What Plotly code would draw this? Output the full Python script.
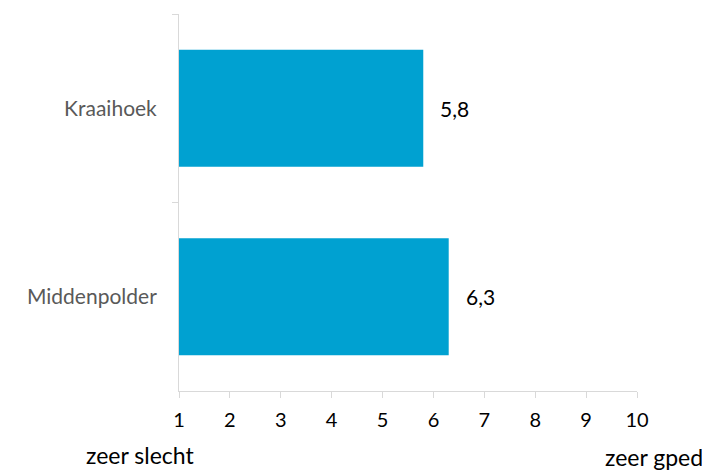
import plotly.graph_objects as go

categories = ["Kraaihoek", "Middenpolder"]
values = [5.8, 6.3]
labels = ["5,8", "6,3"]
x_ticks = [1, 2, 3, 4, 5, 6, 7, 8, 9, 10]
low_label = "zeer slecht"
high_label = "zeer gped"

FONT = "Lato, 'Open Sans', sans-serif"

fig = go.Figure()
fig.add_trace(go.Bar(
    y=categories, x=[v - 1 for v in values], base=1, orientation="h",
    marker=dict(color="#00A1D1", line=dict(width=0)),
    width=0.62, hoverinfo="skip",
))

for c, v, t in zip(categories, values, labels):
    fig.add_annotation(x=v, y=c, text=t, showarrow=False, xanchor="left",
                       xshift=15, font=dict(family=FONT, size=21, color="#000000"))

fig.add_annotation(x=0.0, y=0, xref="paper", yref="paper", text=low_label,
                   showarrow=False, xanchor="center", yanchor="bottom",
                   xshift=-39, yshift=-80,
                   font=dict(family=FONT, size=23, color="#000000"))
fig.add_annotation(x=1.0, y=0, xref="paper", yref="paper", text=high_label,
                   showarrow=False, xanchor="center", yanchor="bottom",
                   xshift=17, yshift=-82,
                   font=dict(family=FONT, size=23, color="#000000"))

# page body has an 8px margin: size/margins compensate so the plot lands
# at the reference position in the 710x474 window
fig.update_layout(
    width=702, height=466,
    margin=dict(l=171, r=73, t=5.5, b=83),
    paper_bgcolor="white", plot_bgcolor="white",
    showlegend=False,
    font=dict(family=FONT),
    xaxis=dict(range=[1, 10], tickvals=x_ticks, ticktext=[str(t) for t in x_ticks],
               showgrid=False, zeroline=False, showline=True, linecolor="#D9D9D9",
               linewidth=1, ticks="outside", ticklen=6, tickcolor="#D9D9D9",
               ticklabelstandoff=5,
               tickfont=dict(family=FONT, size=20, color="#000000")),
    yaxis=dict(type="category", autorange="reversed", tickson="boundaries",
               showgrid=False, zeroline=False, showline=True, linecolor="#D9D9D9",
               linewidth=1, ticks="outside", ticklen=6, tickcolor="#D9D9D9",
               ticklabelstandoff=17,
               tickfont=dict(family=FONT, size=21, color="#595959")),
)

fig.write_html("out.html")
